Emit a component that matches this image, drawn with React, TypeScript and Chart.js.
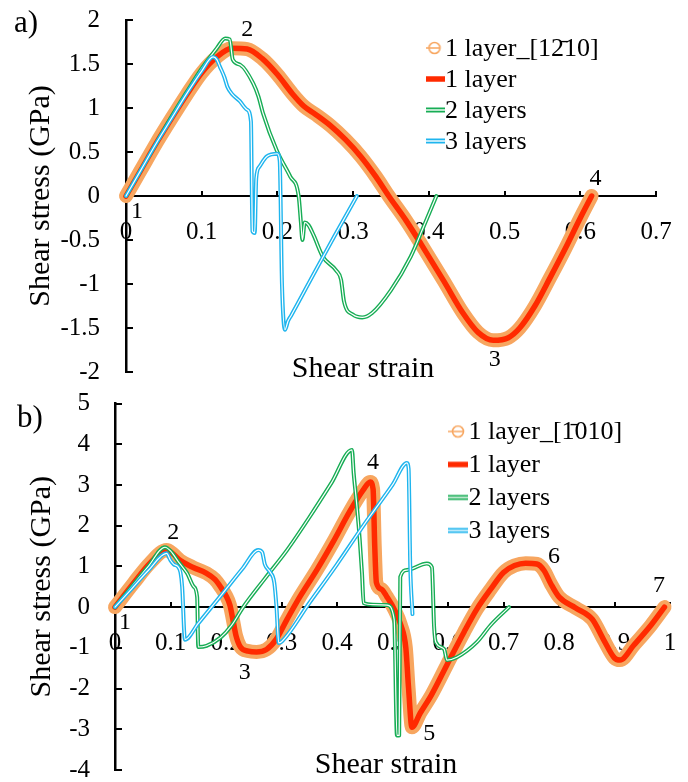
import React, { useEffect, useRef } from 'react';
import { Chart, registerables } from 'chart.js';

Chart.register(...registerables);

const FONT = '"Liberation Serif", "Times New Roman", Times, serif';
const ORANGE = '#F7A660';
const RED = '#FF2A00';
const GREEN = '#17AD55';
const BLUE = '#1FB5EE';

// ---------------- Panel a ----------------
const aXTicks = [0, 0.1, 0.2, 0.3, 0.4, 0.5, 0.6, 0.7];
const aXTickLabels = ['0', '0.1', '0.2', '0.3', '0.4', '0.5', '0.6', '0.7'];
const aYTicks = [-2, -1.5, -1, -0.5, 0, 0.5, 1, 1.5, 2];
const aYTickLabels = ['-2', '-1.5', '-1', '-0.5', '0', '0.5', '1', '1.5', '2'];
const aSeriesNames = ['1 layer_[12\u030410]', '1 layer', '2 layers', '3 layers'];

const aOneLayerStrain = [0, 0.02, 0.04, 0.06, 0.08, 0.1, 0.12, 0.14, 0.16, 0.18, 0.2, 0.22, 0.235, 0.25, 0.27, 0.29, 0.31, 0.33, 0.347, 0.37, 0.39, 0.42, 0.445, 0.465, 0.485, 0.505, 0.52, 0.54, 0.56, 0.58, 0.6, 0.615];
const aOneLayerStress = [0, 0.3, 0.6, 0.88, 1.15, 1.4, 1.58, 1.68, 1.67, 1.56, 1.38, 1.16, 1.02, 0.93, 0.8, 0.64, 0.45, 0.22, 0.0, -0.28, -0.55, -0.97, -1.33, -1.55, -1.64, -1.61, -1.5, -1.25, -0.93, -0.6, -0.25, 0.0];

const aTwoLayersStrain = [0, 0.02, 0.04, 0.06, 0.08, 0.1, 0.12, 0.131, 0.137, 0.141, 0.151, 0.168, 0.175, 0.181, 0.199, 0.217, 0.228, 0.231, 0.233, 0.236, 0.241, 0.248, 0.26, 0.278, 0.284, 0.288, 0.3, 0.312, 0.325, 0.35, 0.376, 0.393, 0.41];
const aTwoLayersStress = [0, 0.3, 0.6, 0.9, 1.18, 1.45, 1.68, 1.79, 1.78, 1.55, 1.49, 1.28, 1.13, 0.94, 0.52, 0.22, 0.0, -0.3, -0.5, -0.3, -0.33, -0.45, -0.69, -0.85, -0.95, -1.2, -1.35, -1.38, -1.33, -1.07, -0.69, -0.35, 0.0];

const aThreeLayersStrain = [0, 0.02, 0.04, 0.06, 0.08, 0.1, 0.115, 0.12, 0.124, 0.13, 0.134, 0.14, 0.15, 0.16, 0.165, 0.167, 0.17, 0.172, 0.176, 0.186, 0.2, 0.203, 0.206, 0.21, 0.214, 0.218, 0.247, 0.275, 0.305];
const aThreeLayersStress = [0, 0.3, 0.6, 0.88, 1.16, 1.42, 1.58, 1.55, 1.47, 1.35, 1.24, 1.16, 1.08, 0.98, 0.85, -0.4, -0.42, 0.2, 0.33, 0.45, 0.48, 0.4, -1.0, -1.52, -1.42, -1.36, -0.9, -0.46, 0.0];

const aPointLabels = ['1', '2', '3', '4'];
const aPointLabelStrain = [0.0145, 0.16, 0.487, 0.62];
const aPointLabelStress = [-0.18, 1.89, -1.86, 0.2];

// ---------------- Panel b ----------------
const bXTicks = [0, 0.1, 0.2, 0.3, 0.4, 0.5, 0.6, 0.7, 0.8, 0.9, 1];
const bXTickLabels = ['0', '0.1', '0.2', '0.3', '0.4', '0.5', '0.6', '0.7', '0.8', '0.9', '1'];
const bYTicks = [-4, -3, -2, -1, 0, 1, 2, 3, 4, 5];
const bYTickLabels = ['-4', '-3', '-2', '-1', '0', '1', '2', '3', '4', '5'];
const bSeriesNames = ['1 layer_[1\u0304010]', '1 layer', '2 layers', '3 layers'];

const bOneLayerStrain = [0, 0.033, 0.063, 0.093, 0.105, 0.117, 0.14, 0.165, 0.18, 0.19, 0.2, 0.207, 0.213, 0.218, 0.226, 0.24, 0.255, 0.273, 0.29, 0.31, 0.333, 0.364, 0.393, 0.423, 0.447, 0.46, 0.465, 0.468, 0.471, 0.48, 0.49, 0.503, 0.515, 0.524, 0.529, 0.535, 0.55, 0.57, 0.598, 0.629, 0.652, 0.677, 0.7, 0.72, 0.74, 0.76, 0.773, 0.785, 0.8, 0.83, 0.86, 0.88, 0.9, 0.91, 0.935, 0.966, 0.99];
const bOneLayerStress = [0, 0.58, 1.08, 1.4, 1.3, 1.15, 0.98, 0.83, 0.68, 0.5, 0.28, 0.05, -0.35, -0.7, -0.98, -1.08, -1.1, -1.04, -0.8, -0.3, 0.25, 0.92, 1.6, 2.35, 2.87, 3.07, 2.9, 1.5, 0.6, 0.44, 0.25, -0.05, -0.44, -1.0, -2.0, -2.95, -2.6, -2.16, -1.42, -0.61, -0.05, 0.44, 0.85, 1.02, 1.08, 1.06, 0.9, 0.58, 0.25, -0.02, -0.3, -0.79, -1.25, -1.3, -0.93, -0.44, 0.0];

const bTwoLayersStrain = [0, 0.03, 0.06, 0.09, 0.1, 0.115, 0.13, 0.142, 0.148, 0.15, 0.165, 0.19, 0.21, 0.231, 0.27, 0.31, 0.35, 0.39, 0.427, 0.43, 0.436, 0.441, 0.445, 0.448, 0.465, 0.49, 0.503, 0.508, 0.512, 0.514, 0.526, 0.562, 0.571, 0.575, 0.578, 0.593, 0.598, 0.616, 0.652, 0.677, 0.71];
const bTwoLayersStress = [0, 0.5, 1.0, 1.47, 1.38, 1.1, 0.83, 0.5, 0.25, -0.98, -0.95, -0.75, -0.45, 0.0, 0.7, 1.4, 2.2, 3.05, 3.86, 3.3, 2.46, 1.65, 0.84, 0.1, 0.06, 0.05, -0.3, -3.15, -3.15, 0.74, 0.91, 1.07, 0.98, -0.5, -0.86, -1.03, -1.3, -1.23, -0.86, -0.44, 0.0];

const bThreeLayersStrain = [0, 0.03, 0.06, 0.093, 0.1, 0.106, 0.113, 0.118, 0.121, 0.126, 0.15, 0.19, 0.23, 0.258, 0.265, 0.27, 0.28, 0.287, 0.291, 0.295, 0.3, 0.35, 0.4, 0.45, 0.5, 0.526, 0.529, 0.532, 0.536];
const bThreeLayersStress = [0, 0.45, 0.9, 1.32, 1.15, 1.05, 1.0, 0.85, 0.5, -0.8, -0.4, 0.27, 0.95, 1.4, 1.35, 1.05, 0.85, 0.6, 0.0, -0.88, -0.85, 0.1, 1.05, 2.05, 3.0, 3.54, 3.4, 1.0, -0.17];

const bPointLabels = ['1', '2', '3', '4', '5', '6', '7'];
const bPointLabelStrain = [0.018, 0.105, 0.234, 0.465, 0.566, 0.791, 0.98];
const bPointLabelStress = [-0.39, 1.82, -1.6, 3.54, -3.12, 1.23, 0.52];

const X_TITLE = 'Shear strain';
const Y_TITLE = 'Shear stress (GPa)';

const panelA = {
  name: 'a)', xMin: 0, xMax: 0.7, yMin: -2, yMax: 2,
  xTicks: aXTicks, xTickLabels: aXTickLabels, yTicks: aYTicks, yTickLabels: aYTickLabels,
  names: aSeriesNames,
  one: [aOneLayerStrain, aOneLayerStress], two: [aTwoLayersStrain, aTwoLayersStress], three: [aThreeLayersStrain, aThreeLayersStress],
  marks: [aPointLabels, aPointLabelStrain, aPointLabelStress],
  padding: { left: 19, right: 32, top: 20, bottom: 19 }, yAxisWidth: 107, yLabelPad: 33,
  legendPos: [426, 31], legendPad: 5,
  xTitlePos: [363, 369], panelLabelPos: [14, 24],
};

const panelB = {
  name: 'b)', xMin: 0, xMax: 1, yMin: -4, yMax: 5,
  xTicks: bXTicks, xTickLabels: bXTickLabels, yTicks: bYTicks, yTickLabels: bYTickLabels,
  names: bSeriesNames,
  one: [bOneLayerStrain, bOneLayerStress], two: [bTwoLayersStrain, bTwoLayersStress], three: [bThreeLayersStrain, bThreeLayersStress],
  marks: [bPointLabels, bPointLabelStrain, bPointLabelStress],
  padding: { left: 20, right: 18, top: 12.5, bottom: 12 }, yAxisWidth: 95, yLabelPad: 32,
  legendPos: [447.5, 21.5], legendPad: 7,
  xTitlePos: [386, 374], panelLabelPos: [17, 28],
};

function makeIcon(kind: string, color: string) {
  const c = document.createElement('canvas');
  c.width = 26; c.height = 16;
  const g = c.getContext('2d') as CanvasRenderingContext2D;
  const line = (w: number, col: string, x0: number, x1: number) => {
    g.strokeStyle = col; g.lineWidth = w; g.beginPath(); g.moveTo(x0, 7); g.lineTo(x1, 7); g.stroke();
  };
  if (kind === 'circle') {
    line(1.5, color, 6, 22);
    g.strokeStyle = color; g.lineWidth = 1.6;
    g.beginPath(); g.arc(16, 7, 5.5, 0, Math.PI * 2); g.stroke();
  } else if (kind === 'thick') {
    line(5.5, color, 6, 26);
  } else {
    line(5, color, 6, 26);
    line(1.4, '#ffffff', 6, 26);
  }
  return c;
}

function zip(xs: number[], ys: number[]) {
  return xs.map((x, i) => ({ x, y: ys[i] }));
}

function buildConfig(p: any) {
  const one = zip(p.one[0], p.one[1]);
  const two = zip(p.two[0], p.two[1]);
  const three = zip(p.three[0], p.three[1]);
  const base = {
    showLine: true, pointRadius: 0, pointHoverRadius: 0, pointHitRadius: 0,
    cubicInterpolationMode: 'monotone',
    clip: false, fill: false, borderJoinStyle: 'round', borderCapStyle: 'round',
  };
  const icons = [makeIcon('circle', ORANGE), makeIcon('thick', RED), makeIcon('double', GREEN), makeIcon('double', BLUE)];
  const tickFont = { family: FONT, size: 25, lineHeight: 1 };

  const extras = {
    id: 'panelExtras',
    afterLayout(chart: any) {
      const lg = chart.legend;
      if (!lg) return;
      lg.left = p.legendPos[0];
      lg.top = p.legendPos[1];
      lg.right = lg.left + lg.width;
      lg.bottom = lg.top + lg.height;
    },
    afterDraw(chart: any) {
      const ctx = chart.ctx;
      const xs = chart.scales.x;
      const ys = chart.scales.y;
      ctx.save();
      ctx.fillStyle = '#000';
      ctx.textAlign = 'center';
      ctx.textBaseline = 'middle';
      ctx.font = `24px ${FONT}`;
      const [txt, mx, my] = p.marks;
      txt.forEach((t: string, i: number) => {
        ctx.fillText(t, xs.getPixelForValue(mx[i]), ys.getPixelForValue(my[i]));
      });
      ctx.font = `30px ${FONT}`;
      ctx.fillText(X_TITLE, p.xTitlePos[0], p.xTitlePos[1]);
      ctx.textAlign = 'left';
      ctx.font = `31px ${FONT}`;
      ctx.fillText(p.name, p.panelLabelPos[0], p.panelLabelPos[1]);
      ctx.restore();
    },
  };

  return {
    type: 'line',
    data: {
      datasets: [
        { ...base, label: p.names[0], data: one, borderColor: ORANGE, borderWidth: 14, order: 6 },
        { ...base, label: p.names[1], data: one, borderColor: RED, borderWidth: 5.5, order: 5 },
        { ...base, label: p.names[2], data: two, borderColor: GREEN, borderWidth: 4, order: 4 },
        { ...base, label: p.names[3], data: three, borderColor: BLUE, borderWidth: 4, order: 2 },
        { ...base, label: '', data: two, borderColor: '#ffffff', borderWidth: 1.2, order: 3 },
        { ...base, label: '', data: three, borderColor: '#ffffff', borderWidth: 1.2, order: 1 },
      ],
    },
    options: {
      responsive: false,
      animation: false,
      devicePixelRatio: 1,
      events: [],
      layout: { padding: p.padding },
      scales: {
        x: {
          type: 'linear',
          position: { y: 0 },
          min: p.xMin, max: p.xMax,
          afterBuildTicks: (s: any) => { s.ticks = p.xTicks.map((v: number) => ({ value: v })); },
          afterFit: (s: any) => { s.paddingLeft = 0; s.paddingRight = 0; s.paddingTop = 0; s.paddingBottom = 0; },
          ticks: {
            callback: (_v: any, i: number) => p.xTickLabels[i],
            font: tickFont, color: '#000', padding: 30, autoSkip: false, maxRotation: 0, minRotation: 0,
          },
          grid: { drawOnChartArea: false, drawTicks: true, tickLength: -6, color: '#000', lineWidth: 2 },
          border: { display: true, color: '#000', width: 2 },
          title: { display: false },
        },
        y: {
          type: 'linear',
          position: 'left',
          min: p.yMin, max: p.yMax,
          afterBuildTicks: (s: any) => { s.ticks = p.yTicks.map((v: number) => ({ value: v })); },
          afterFit: (s: any) => { s.width = p.yAxisWidth; s.paddingLeft = 0; s.paddingRight = 0; s.paddingTop = 0; s.paddingBottom = 0; },
          ticks: {
            callback: (_v: any, i: number) => p.yTickLabels[i],
            font: tickFont, color: '#000', padding: p.yLabelPad, autoSkip: false,
          },
          grid: { drawOnChartArea: false, drawTicks: true, tickLength: -7, color: '#000', lineWidth: 2 },
          border: { display: true, color: '#000', width: 2.5 },
          title: { display: true, text: Y_TITLE, font: { family: FONT, size: 30 }, color: '#000', padding: { top: 4, bottom: 4 } },
        },
      },
      plugins: {
        tooltip: { enabled: false },
        legend: {
          display: true,
          position: 'chartArea',
          fullSize: false,
          align: 'start',
          labels: {
            usePointStyle: true,
            pointStyleWidth: 1,
            padding: p.legendPad,
            color: '#000',
            font: { family: FONT, size: 26 },
            generateLabels: () => p.names.map((n: string, i: number) => ({
              text: n, pointStyle: icons[i], datasetIndex: i, hidden: false,
              fillStyle: 'rgba(0,0,0,0)', strokeStyle: 'rgba(0,0,0,0)', lineWidth: 0, fontColor: '#000',
            })),
          },
        },
      },
    },
    plugins: [extras],
  };
}

function Panel({ spec, top }: { spec: any; top: number }) {
  const ref = useRef<HTMLCanvasElement>(null);
  useEffect(() => {
    const chart = new Chart(ref.current as HTMLCanvasElement, buildConfig(spec) as any);
    return () => chart.destroy();
  }, [spec]);
  return (
    <canvas
      ref={ref}
      width={688}
      height={391}
      style={{ position: 'absolute', left: 0, top, width: 688, height: 391 }}
    />
  );
}

export default function App() {
  return (
    <div style={{ position: 'absolute', left: 0, top: 0, width: 688, height: 782, background: '#ffffff' }}>
      <Panel spec={panelA} top={0} />
      <Panel spec={panelB} top={391} />
    </div>
  );
}
